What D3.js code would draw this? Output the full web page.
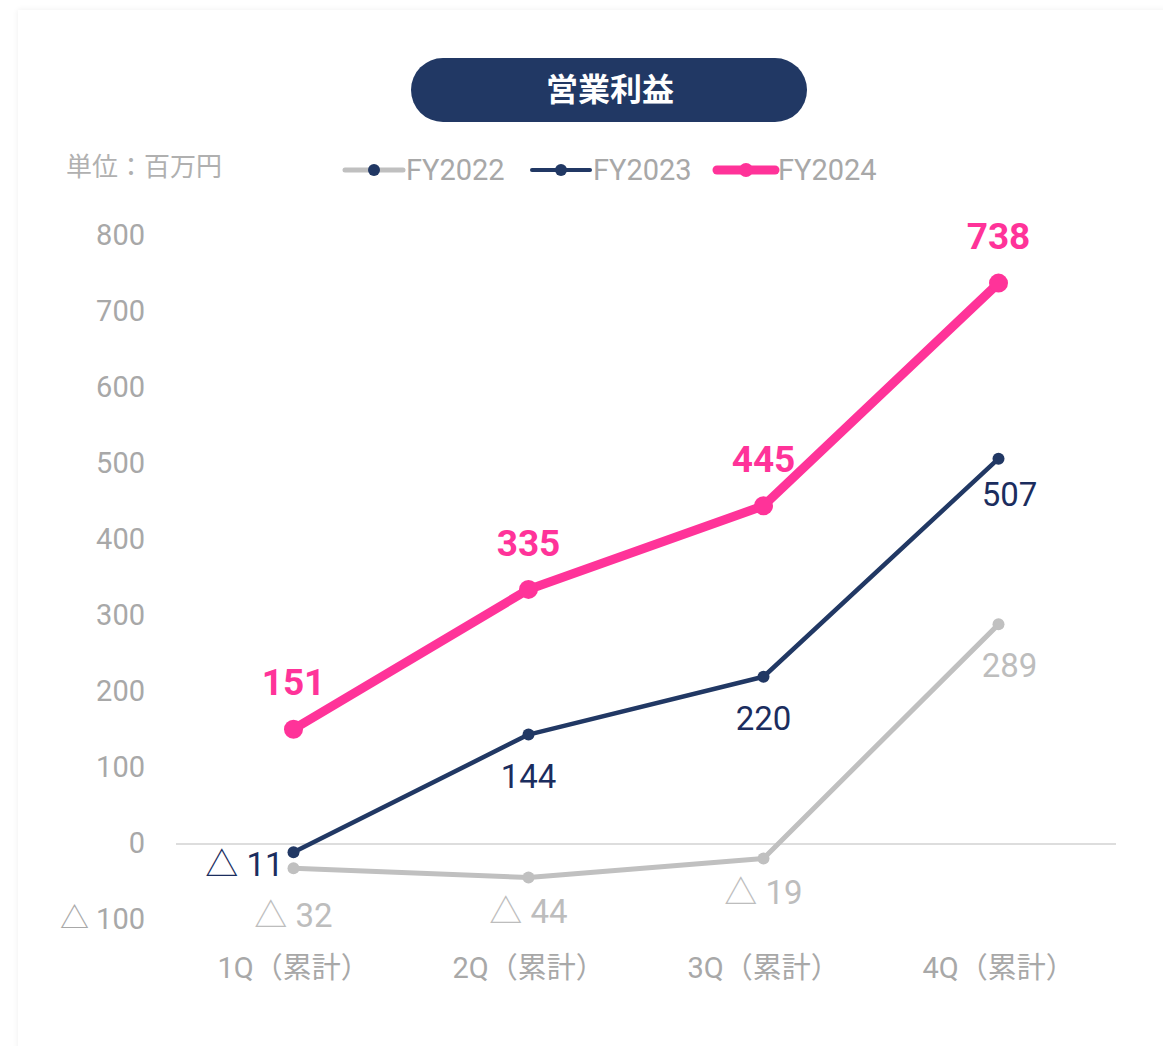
<!DOCTYPE html>
<html>
<head>
<meta charset="utf-8">
<script src="https://cdn.jsdelivr.net/npm/d3@7"></script>
<style>
  html, body { margin: 0; padding: 0; background: #ffffff; width: 1163px; height: 1046px; overflow: hidden; }
  #card { position: absolute; left: 18px; top: 10px; width: 1180px; height: 1080px; background: #fff;
          box-shadow: 0 0 6px rgba(0,0,0,0.07); }
  svg { position: absolute; left: 0; top: 0; }
  text { font-family: Roboto, "Noto Sans CJK JP", sans-serif; }
</style>
</head>
<body>
<div id="card"></div>
<svg id="chart" width="1163" height="1046"></svg>
<script>
// ---- data ----
const categories = ["1Q（累計）", "2Q（累計）", "3Q（累計）", "4Q（累計）"];
const seriesNames = ["FY2022", "FY2023", "FY2024"];
const fy2022 = [-32, -44, -19, 289];
const fy2023 = [-11, 144, 220, 507];
const fy2024 = [151, 335, 445, 738];
const yTicks = [-100, 0, 100, 200, 300, 400, 500, 600, 700, 800];
const title = "営業利益";
const unitLabel = "単位：百万円";

// ---- layout / style ----
const NAVY = "#213864", PINK = "#ff3399", GREY = "#c0c0c0", TICK = "#a8a8a8";
const svg = d3.select("#chart");

const x = d3.scaleBand().domain(categories).range([176, 1116]);
const cx = c => x(c) + x.bandwidth() / 2;
const y = d3.scaleLinear().domain([0, 800]).range([844, 236]);
const fmt = v => v < 0 ? "△ " + Math.abs(v) : String(v);

// title pill
svg.append("rect").attr("x", 411).attr("y", 58).attr("width", 396).attr("height", 64)
  .attr("rx", 32).attr("ry", 32).attr("fill", NAVY);
svg.append("text").attr("x", 610).attr("y", 89).attr("dy", "0.36em")
  .attr("text-anchor", "middle").attr("fill", "#fff")
  .style("font-family", "'Noto Sans CJK JP', sans-serif")
  .style("font-weight", 700).style("font-size", "32px").text(title);

// unit label
svg.append("text").attr("x", 66).attr("y", 167).attr("dy", "0.36em")
  .attr("fill", "#b0b0b0").style("font-family", "'Noto Sans CJK JP', sans-serif")
  .style("font-size", "26px").text(unitLabel);

// legend
const legendStyles = [
  { line: GREY, lw: 5, dot: NAVY, r: 6 },
  { line: NAVY, lw: 4, dot: NAVY, r: 6 },
  { line: PINK, lw: 9, dot: PINK, r: 7 }
];
const legendX = [345, 532, 717];
seriesNames.forEach((name, i) => {
  const g = svg.append("g").attr("transform", `translate(${legendX[i]},170)`);
  const s = legendStyles[i];
  g.append("line").attr("x1", 0).attr("x2", 58).attr("y1", 0).attr("y2", 0)
    .attr("stroke", s.line).attr("stroke-width", s.lw).attr("stroke-linecap", "round");
  g.append("circle").attr("cx", 29).attr("cy", 0).attr("r", s.r).attr("fill", s.dot);
  g.append("text").attr("x", 61).attr("y", 0).attr("dy", "0.355em")
    .attr("fill", TICK).style("font-size", "29px").text(name);
});

// y axis (labels only)
const yAxis = d3.axisLeft(y).tickValues(yTicks).tickFormat(fmt).tickSize(0).tickPadding(0);
const yg = svg.append("g").attr("transform", "translate(145,-2)").call(yAxis);
yg.select(".domain").remove();
yg.selectAll("text").attr("fill", TICK).style("font-size", "29px")
  .style("font-family", "Roboto, 'Noto Sans CJK JP', sans-serif").attr("dy", "0.355em");

// zero line
svg.append("line").attr("x1", 176).attr("x2", 1116).attr("y1", y(0)).attr("y2", y(0))
  .attr("stroke", "#dddddd").attr("stroke-width", 2);

// x axis labels
const xAxis = d3.axisBottom(x).tickSize(0).tickPadding(0);
const xg = svg.append("g").attr("transform", "translate(0,968)").call(xAxis);
xg.select(".domain").remove();
xg.selectAll("text").attr("fill", TICK).style("font-size", "29px")
  .style("font-family", "Roboto, 'Noto Sans CJK JP', sans-serif").attr("dy", "0.35em").attr("y", 0);

// series
const series = [
  { vals: fy2022, color: GREY, lw: 5, r: 6, label: "#bdbdbd", size: 33, weight: 400,
    dx: [0, 0, 0, 11], dy: [47, 34, 34, 41], anchor: ["middle", "middle", "middle", "middle"] },
  { vals: fy2023, color: NAVY, lw: 4.5, r: 6, label: "#1b2d5e", size: 33, weight: 400,
    dx: [-10, 0, 0, 11], dy: [12, 42, 41, 36], anchor: ["end", "middle", "middle", "middle"] },
  { vals: fy2024, color: PINK, lw: 9, r: 9.5, label: PINK, size: 37, weight: 700,
    dx: [0, 0, 0, 0], dy: [-47, -47, -47, -47], anchor: ["middle", "middle", "middle", "middle"] }
];
const line = d3.line().x((d, i) => cx(categories[i])).y(d => y(d));
series.forEach(s => {
  const g = svg.append("g");
  g.append("path").datum(s.vals).attr("d", line).attr("fill", "none")
    .attr("stroke", s.color).attr("stroke-width", s.lw).attr("stroke-linejoin", "round");
  g.selectAll("circle").data(s.vals).join("circle")
    .attr("cx", (d, i) => cx(categories[i])).attr("cy", d => y(d)).attr("r", s.r).attr("fill", s.color);
  g.selectAll("text").data(s.vals).join("text")
    .attr("x", (d, i) => cx(categories[i]) + s.dx[i])
    .attr("y", (d, i) => y(d) + s.dy[i]).attr("dy", "0.355em")
    .attr("text-anchor", (d, i) => s.anchor[i])
    .attr("fill", s.label).style("font-size", s.size + "px").style("font-weight", s.weight)
    .text(fmt);
});
</script>
</body>
</html>
